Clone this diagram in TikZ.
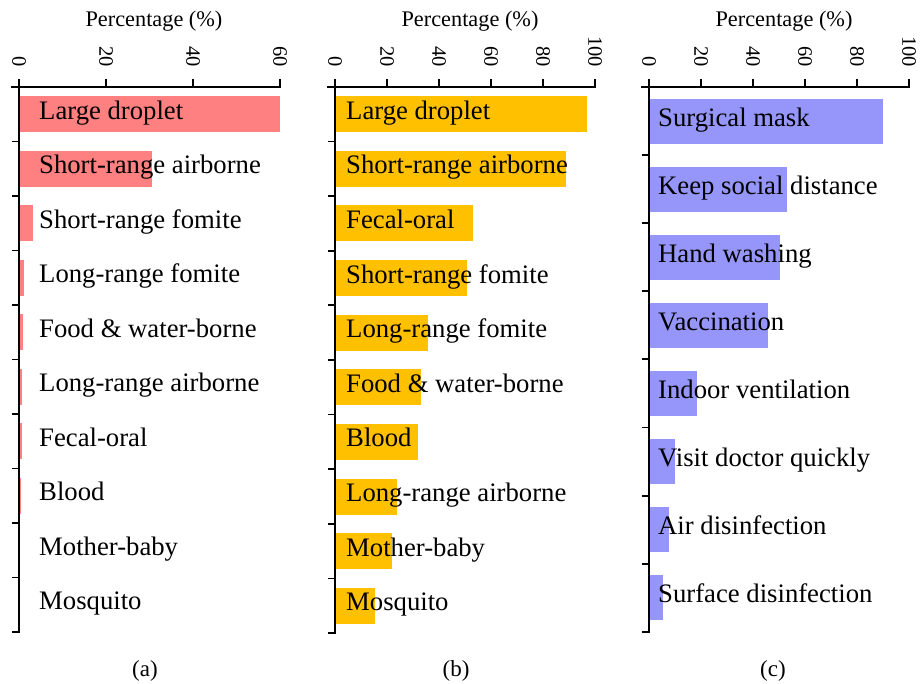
\documentclass[tikz,border=0pt]{standalone}
\usepackage{fontspec}
\setmainfont{Liberation Serif}
\definecolor{barA}{RGB}{255,128,128}
\definecolor{barB}{RGB}{255,192,0}
\definecolor{barC}{RGB}{150,150,250}
\tikzset{
  axisline/.style={line width=1.8pt, line cap=rect},
  lbl/.style={anchor=base west, inner sep=0pt, font=\fontsize{26.7}{30}\selectfont},
  ticklbl/.style={rotate=-90, anchor=east, inner sep=0pt, font=\fontsize{20.5}{24}\selectfont},
  axtitle/.style={anchor=base, inner sep=0pt, font=\fontsize{22.3}{26}\selectfont},
  caption/.style={inner sep=0pt, font=\fontsize{23}{27}\selectfont}
}
\begin{document}
\begin{tikzpicture}[x=1pt,y=-1pt]
\useasboundingbox (0,0) rectangle (921,684);
% ---------- panel (a) ----------
\foreach \v/\t [count=\i] in {60/Large droplet, 30.6/Short-range airborne, 3.2/Short-range fomite, 1.1/Long-range fomite, 1.0/Food \& water-borne, 0.8/Long-range airborne, 0.7/Fecal-oral, 0.55/Blood, 0/Mother-baby, 0/Mosquito}{
  \pgfmathsetmacro\yc{87+(\i-0.5)*54.5}
  \fill[barA] (19,\yc-18) rectangle ({19+4.35*\v},\yc+18);
  \node[lbl] (a\i) at (39,\yc+5) {\t};
}
\draw[axisline] (12,87) -- (280,87);
\draw[axisline] (19,80) -- (19,632);
\foreach \k in {0,...,10}{\draw[axisline] (19,{87+\k*54.5}) -- (13,{87+\k*54.5});}
\foreach \v in {0,20,40,60}{
  \draw[axisline] ({19+4.35*\v},87) -- ({19+4.35*\v},80);
  \node[ticklbl] (ta\v) at ({19+4.35*\v},67) {\v};
}
\node[axtitle] (tita) at (154,27) {Percentage (\%)};
\node[caption] (capa) at (145,671) {(a)};
% ---------- panel (b) ----------
\foreach \v/\t [count=\i] in {97/Large droplet, 89/Short-range airborne, 53/Fecal-oral, 50.8/Short-range fomite, 35.7/Long-range fomite, 33/Food \& water-borne, 32/Blood, 23.8/Long-range airborne, 22/Mother-baby, 15.4/Mosquito}{
  \pgfmathsetmacro\yc{87+(\i-0.5)*54.6}
  \fill[barB] (335,\yc-18) rectangle ({335+2.6*\v},\yc+18);
  \node[lbl] (b\i) at (346,\yc+5) {\t};
}
\draw[axisline] (328,87) -- (595,87);
\draw[axisline] (335,80) -- (335,633);
\foreach \k in {0,...,10}{\draw[axisline] (335,{87+\k*54.6}) -- (329,{87+\k*54.6});}
\foreach \v in {0,20,40,60,80,100}{
  \draw[axisline] ({335+2.6*\v},87) -- ({335+2.6*\v},80);
  \node[ticklbl] (tb\v) at ({335+2.6*\v},67) {\v};
}
\node[axtitle] (titb) at (470,27) {Percentage (\%)};
\node[caption] (capb) at (456,671) {(b)};
% ---------- panel (c) ----------
\foreach \v/\t [count=\i] in {90/Surgical mask, 53/Keep social distance, 50.4/Hand washing, 45.8/Vaccination, 18.5/Indoor ventilation, 10/Visit doctor quickly, 7.7/Air disinfection, 5.4/Surface disinfection}{
  \pgfmathsetmacro\yc{87+(\i-0.5)*68.1}
  \fill[barC] (649,\yc-22.5) rectangle ({649+2.6*\v},\yc+22.5);
  \node[lbl] (c\i) at (658,\yc+5) {\t};
}
\draw[axisline] (642,87) -- (909,87);
\draw[axisline] (649,80) -- (649,632);
\foreach \k in {0,...,8}{\draw[axisline] (649,{87+\k*68.1}) -- (643,{87+\k*68.1});}
\foreach \v in {0,20,40,60,80,100}{
  \draw[axisline] ({649+2.6*\v},87) -- ({649+2.6*\v},80);
  \node[ticklbl] (tc\v) at ({649+2.6*\v},67) {\v};
}
\node[axtitle] (titc) at (784,27) {Percentage (\%)};
\node[caption] (capc) at (773,671) {(c)};
\end{tikzpicture}
\end{document}
